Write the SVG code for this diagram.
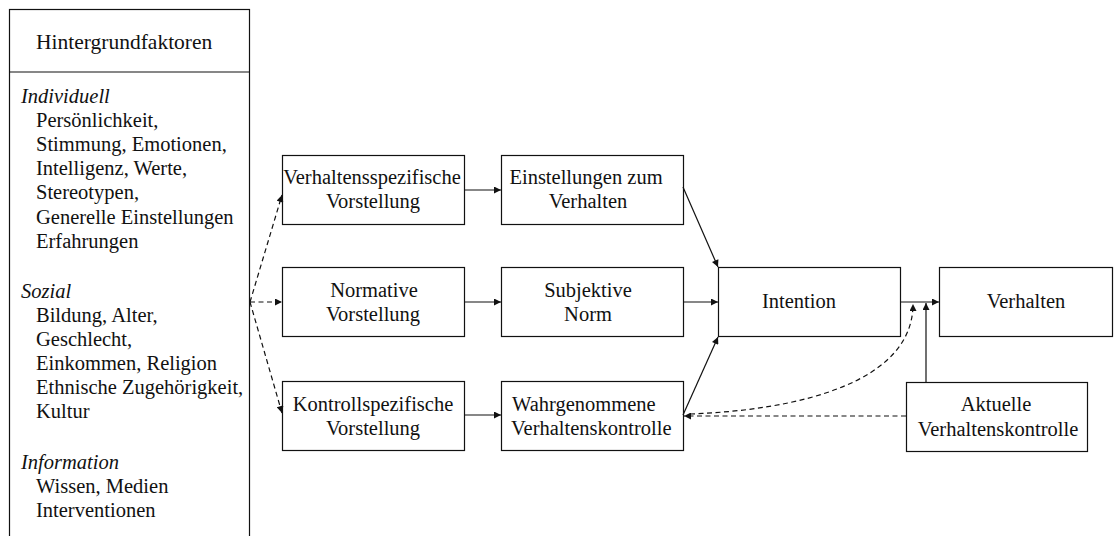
<svg xmlns="http://www.w3.org/2000/svg" width="1114" height="536" viewBox="0 0 1114 536">
  <style>
    .box { fill: #fff; stroke: #111; stroke-width: 1.2; }
    .t { font-family: 'Liberation Serif', 'Tinos', 'DejaVu Serif', serif; font-size: 20.5px; fill: #111; }
    .h { font-size: 21.5px; }
    .c { text-anchor: middle; }
    .i { font-style: italic; }
    .ln { fill: none; stroke: #111; stroke-width: 1.2; }
    .dash { stroke-dasharray: 5 3.5; }
  </style>
  <defs>
    <marker id="arr" viewBox="0 0 10 10" refX="10" refY="5" markerWidth="8" markerHeight="7" markerUnits="userSpaceOnUse" orient="auto">
      <path d="M0,0 L10,5 L0,10 z" fill="#111"/>
    </marker>
  </defs>
  <rect width="1114" height="536" fill="#fff"/>

  <!-- Background factors panel -->
  <g id="hintergrundfaktoren">
    <rect class="box" x="9.5" y="9.5" width="240" height="540"/>
    <line class="ln" x1="9.5" y1="72" x2="249.5" y2="72"/>
    <text class="t h" x="36" y="49">Hintergrundfaktoren</text>
    <text class="t i" x="21" y="103">Individuell</text>
    <text class="t" x="36" y="127">Persönlichkeit,</text>
    <text class="t" x="36" y="151">Stimmung, Emotionen,</text>
    <text class="t" x="36" y="175">Intelligenz, Werte,</text>
    <text class="t" x="36" y="199">Stereotypen,</text>
    <text class="t" x="36" y="224">Generelle Einstellungen</text>
    <text class="t" x="36" y="248">Erfahrungen</text>
    <text class="t i" x="21" y="298">Sozial</text>
    <text class="t" x="36" y="322">Bildung, Alter,</text>
    <text class="t" x="36" y="346">Geschlecht,</text>
    <text class="t" x="36" y="370">Einkommen, Religion</text>
    <text class="t" x="36" y="394">Ethnische Zugehörigkeit,</text>
    <text class="t" x="36" y="418">Kultur</text>
    <text class="t i" x="21" y="469">Information</text>
    <text class="t" x="36" y="493">Wissen, Medien</text>
    <text class="t" x="36" y="517">Interventionen</text>
  </g>

  <g id="verhaltensspezifische-vorstellung">
    <rect class="box" x="282.5" y="155.5" width="182" height="69"/>
    <text class="t c" x="372" y="184">Verhaltensspezifische</text>
    <text class="t c" x="373" y="208">Vorstellung</text>
  </g>
  <g id="einstellungen">
    <rect class="box" x="501.5" y="155.5" width="182" height="69"/>
    <text class="t c" x="586" y="184">Einstellungen zum</text>
    <text class="t c" x="588" y="208">Verhalten</text>
  </g>
  <g id="normative-vorstellung">
    <rect class="box" x="282.5" y="267.5" width="182" height="69"/>
    <text class="t c" x="374" y="297">Normative</text>
    <text class="t c" x="373" y="321">Vorstellung</text>
  </g>
  <g id="subjektive-norm">
    <rect class="box" x="501.5" y="267.5" width="182" height="69"/>
    <text class="t c" x="588" y="297">Subjektive</text>
    <text class="t c" x="588" y="321">Norm</text>
  </g>
  <g id="kontrollspezifische-vorstellung">
    <rect class="box" x="282.5" y="381.5" width="182" height="69"/>
    <text class="t c" x="373" y="411">Kontrollspezifische</text>
    <text class="t c" x="373" y="435">Vorstellung</text>
  </g>
  <g id="wahrgenommene-verhaltenskontrolle">
    <rect class="box" x="501.5" y="381.5" width="182" height="69"/>
    <text class="t" x="512" y="411">Wahrgenommene</text>
    <text class="t" x="511" y="435">Verhaltenskontrolle</text>
  </g>
  <g id="intention">
    <rect class="box" x="718.5" y="267.5" width="182" height="69"/>
    <text class="t c" x="799" y="308">Intention</text>
  </g>
  <g id="verhalten">
    <rect class="box" x="939.5" y="267.5" width="173" height="69"/>
    <text class="t c" x="1026" y="308">Verhalten</text>
  </g>
  <g id="aktuelle-verhaltenskontrolle">
    <rect class="box" x="906.5" y="382.5" width="181" height="69"/>
    <text class="t c" x="996" y="411">Aktuelle</text>
    <text class="t c" x="998" y="436">Verhaltenskontrolle</text>
  </g>

  <g id="connectors">
    <!-- dashed influences of the background factors -->
    <line class="ln dash" x1="250" y1="302" x2="282" y2="195" marker-end="url(#arr)"/>
    <line class="ln dash" x1="250" y1="302" x2="282" y2="302" marker-end="url(#arr)"/>
    <line class="ln dash" x1="250" y1="302" x2="282" y2="413" marker-end="url(#arr)"/>
    <!-- beliefs to attitudes / norm / control -->
    <line class="ln" x1="465" y1="190" x2="501" y2="190" marker-end="url(#arr)"/>
    <line class="ln" x1="465" y1="302" x2="501" y2="302" marker-end="url(#arr)"/>
    <line class="ln" x1="465" y1="415" x2="501" y2="415" marker-end="url(#arr)"/>
    <!-- predictors of intention -->
    <line class="ln" x1="683" y1="187" x2="718" y2="267" marker-end="url(#arr)"/>
    <line class="ln" x1="683" y1="302" x2="718" y2="302" marker-end="url(#arr)"/>
    <line class="ln" x1="683" y1="415" x2="718" y2="337" marker-end="url(#arr)"/>
    <!-- intention to behaviour -->
    <line class="ln" x1="901" y1="302" x2="939" y2="302" marker-end="url(#arr)"/>
    <!-- actual control moderates intention-behaviour link -->
    <line class="ln" x1="926" y1="382" x2="926" y2="303" marker-end="url(#arr)"/>
    <!-- actual control informs perceived control -->
    <line class="ln dash" x1="906" y1="416" x2="684" y2="416" marker-end="url(#arr)"/>
    <!-- perceived control moderates intention-behaviour link -->
    <path class="ln dash" d="M690,414 C800,410 913,382 913,304" marker-end="url(#arr)"/>
  </g>
</svg>
